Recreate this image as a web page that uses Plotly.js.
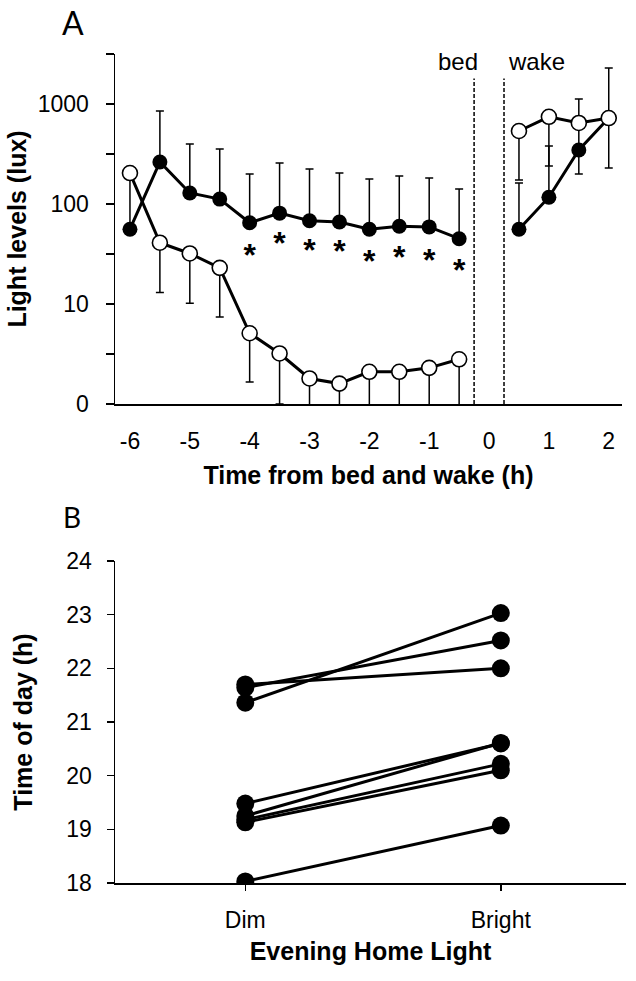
<!DOCTYPE html>
<html><head><meta charset="utf-8">
<script src="https://cdn.plot.ly/plotly-3.0.1.min.js"></script>
<style>html,body{margin:0;padding:0;background:#fff}</style>
</head><body><div id="chart" style="width:636px;height:981px"></div>
<script>
// ---------- Panel A data ----------
const timeEvening = [-6, -5.5, -5, -4.5, -4, -3.5, -3, -2.5, -2, -1.5, -1, -0.5];
const brightEvening = [56, 263, 129, 112, 65, 81, 68, 66, 56, 60, 59, 45];
const brightEveningUpper = [200, 851, 398, 355, 200, 257, 224, 204, 178, 191, 182, 141];
const dimEvening = [204, 41, 32, 23, 5.1, 3.2, 1.8, 1.6, 2.1, 2.1, 2.3, 2.8];
const dimEveningLower = [204, 13, 10.2, 7.4, 1.66, 1, 0.5, 0.5, 0.5, 0.5, 0.5, 0.5];
const timeMorning = [0.5, 1, 1.5, 2];
const brightMorning = [56, 117, 347, 724];
const brightMorningUpper = [162, 380, 347, 724];
const dimMorning = [537, 745, 646, 724];
const dimMorningUpper = [537, 745, 1122, 2290];
const dimMorningLower = [174, 240, 200, 229];
const starTimes = [-4, -3.5, -3, -2.5, -2, -1.5, -1, -0.5];
const starLevels = [28.8, 38.0, 32.4, 31.6, 25.1, 27.5, 25.7, 20.4];
const eventTimes = [-0.25, 0.25];
const eventLabels = ['bed', 'wake'];
const xTicksA = [-6, -5, -4, -3, -2, -1, 0, 1, 2];
const xTickTextA = ['-6', '-5', '-4', '-3', '-2', '-1', '0', '1', '2'];
const yTickValsA = [1, 3.162, 10, 31.62, 100, 316.2, 1000, 3162];
const yTickTextA = ['0', '', '10', '', '100', '', '1000', ''];
// ---------- Panel B data ----------
const conditions = ['Dim', 'Bright'];
const dimTimes = [21.70, 21.64, 21.36, 19.48, 19.25, 19.18, 19.13, 18.03];
const brightTimes = [22.00, 22.52, 23.03, 20.60, 20.61, 20.22, 20.10, 19.07];
const yTicksB = [18, 19, 20, 21, 22, 23, 24];

const FONT = 'Liberation Sans, Arial, Helvetica, sans-serif';
const diff = (a, b) => a.map((v, i) => v - b[i]);

function series(x, y, upper, lower, open, xa, ya) {
  return {
    x: x, y: y, xaxis: xa, yaxis: ya, type: 'scatter', mode: 'lines+markers',
    line: {color: 'black', width: 3},
    marker: {size: 15, color: open ? 'white' : 'black', line: {color: 'black', width: open ? 1.6 : 0}},
    error_y: {type: 'data', symmetric: false, array: diff(upper, y), arrayminus: diff(y, lower),
      color: 'black', thickness: 1.5, width: 4},
    hoverinfo: 'skip', cliponaxis: true
  };
}

const traces = [
  series(timeEvening, brightEvening, brightEveningUpper, brightEvening, false, 'x', 'y'),
  series(timeMorning, brightMorning, brightMorningUpper, brightMorning, false, 'x', 'y'),
  series(timeEvening, dimEvening, dimEvening, dimEveningLower, true, 'x', 'y'),
  series(timeMorning, dimMorning, dimMorningUpper, dimMorningLower, true, 'x', 'y'),
  {x: starTimes, y: starLevels, xaxis: 'x', yaxis: 'y', type: 'scatter', mode: 'text',
   text: starTimes.map(() => '*'), textposition: 'middle center',
   textfont: {family: FONT, size: 32, color: 'black', weight: 'bold'}, hoverinfo: 'skip'}
];

dimTimes.forEach((d, i) => {
  traces.push({x: conditions, y: [d, brightTimes[i]], xaxis: 'x2', yaxis: 'y2', type: 'scatter',
    mode: 'lines+markers', line: {color: 'black', width: 3},
    marker: {size: 18, color: 'black'}, hoverinfo: 'skip'});
});

const axisBase = {showline: true, linecolor: 'black', linewidth: 1.5, showgrid: false, zeroline: false,
  tickcolor: 'black', tickwidth: 1.5, tickfont: {family: FONT, size: 23, color: 'black'}};
const titleFont = {family: FONT, size: 25, color: 'black', weight: 'bold'};

const layout = {
  width: 636, height: 981, margin: {l: 115, r: 10, t: 54, b: 98},
  showlegend: false, paper_bgcolor: 'white', plot_bgcolor: 'white',
  font: {family: FONT, size: 23, color: 'black'},
  xaxis: Object.assign({}, axisBase, {domain: [0, 0.992], anchor: 'y', range: [-6.25, 2.22],
    tickmode: 'array', tickvals: xTicksA, ticktext: xTickTextA, ticks: '', ticklabelstandoff: 16,
    title: {text: 'Time from bed and wake (h)', font: titleFont, standoff: 13}}),
  yaxis: Object.assign({}, axisBase, {domain: [0.5778, 1], anchor: 'x', type: 'log', range: [0, 3.5],
    tickmode: 'array', tickvals: yTickValsA, ticktext: yTickTextA, ticks: 'outside', ticklen: 8,
    ticklabelstandoff: 12,
    title: {text: 'Light levels (lux)', font: titleFont, standoff: 4}}),
  xaxis2: Object.assign({}, axisBase, {domain: [0, 1], anchor: 'y2', type: 'category',
    range: [-0.51, 1.49], ticks: 'outside', ticklen: 6, ticklabelstandoff: 10,
    title: {text: 'Evening Home Light', font: titleFont, standoff: 10}}),
  yaxis2: Object.assign({}, axisBase, {domain: [0, 0.3884], anchor: 'x2', range: [18, 24],
    tickmode: 'array', tickvals: yTicksB, ticks: 'outside', ticklen: 7, ticklabelstandoff: 10,
    title: {text: 'Time of day (h)', font: titleFont, standoff: 26}}),
  shapes: eventTimes.map(t => ({type: 'line', xref: 'x', yref: 'y domain', x0: t, x1: t, y0: 0, y1: 0.93,
    line: {color: 'black', width: 1.5, dash: '4px,2px'}})),
  annotations: [
    {text: eventLabels[0], xref: 'x', yref: 'y domain', x: eventTimes[0], y: 0.98, xanchor: 'right',
     yanchor: 'middle', xshift: 6, showarrow: false, font: {family: FONT, size: 24, color: 'black'}},
    {text: eventLabels[1], xref: 'x', yref: 'y domain', x: eventTimes[1], y: 0.98, xanchor: 'left',
     yanchor: 'middle', xshift: 2, showarrow: false, font: {family: FONT, size: 24, color: 'black'}},
    {text: 'A', xref: 'paper', yref: 'paper', x: -0.082, y: 1.0374, xanchor: 'center', yanchor: 'middle',
     showarrow: false, font: {family: 'Lato, Noto Sans, sans-serif', size: 32, color: 'black'}},
    {text: 'B', xref: 'paper', yref: 'paper', x: -0.084, y: 0.4415, xanchor: 'center', yanchor: 'middle',
     showarrow: false, font: {family: 'Lato, Noto Sans, sans-serif', size: 28, color: 'black'}}
  ]
};

Plotly.newPlot('chart', traces, layout, {staticPlot: true, displayModeBar: false});
</script></body></html>
